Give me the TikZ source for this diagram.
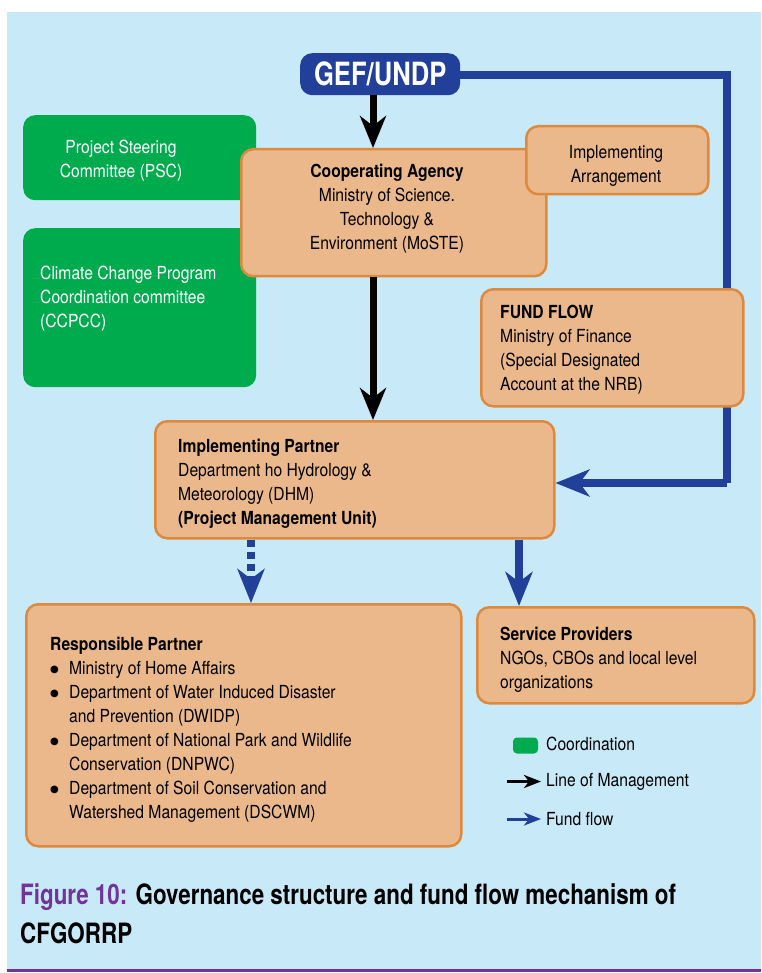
\documentclass[tikz,border=0pt]{standalone}
\usepackage{fontspec}
\setmainfont[FakeStretch=0.87]{TeX Gyre Heros}
\newfontfamily\condf[FakeStretch=0.8]{TeX Gyre Heros}
\newfontfamily\dejavu{DejaVu Sans}
\usetikzlibrary{arrows.meta}
\definecolor{bgblue}{HTML}{C8E9F8}
\definecolor{boxfill}{HTML}{EBB88C}
\definecolor{boxline}{HTML}{DD8A3E}
\definecolor{cgreen}{HTML}{00AB4E}
\definecolor{dblue}{HTML}{22409A}
\definecolor{purp}{HTML}{72339B}
\newcommand{\blt}{\makebox[19pt][l]{\raisebox{2pt}{\dejavu\fontsize{10}{10}\selectfont ●}}}
\tikzset{
  obox/.style={draw=boxline, fill=boxfill, line width=2.5pt, rounded corners=12pt, inner sep=0pt, anchor=north west},
  gbox/.style={fill=cgreen, rounded corners=12pt, inner sep=0pt, anchor=north west},
  txt/.style={inner sep=0pt, font=\fontsize{18}{24}\selectfont, align=left},
  ctxt/.style={inner sep=0pt, font=\fontsize{18}{24}\selectfont, align=center},
  mgmt/.style={black, line width=7pt, -{Stealth[length=32pt, width=26pt, inset=10pt]}},
  fund/.style={dblue, line width=7.5pt, -{Stealth[length=34pt, width=27pt, inset=10pt]}},
  fundline/.style={dblue, line width=7.5pt},
  dotfund/.style={dblue, line width=7.5pt, dash pattern=on 7pt off 5pt, -{Stealth[length=34pt, width=27pt, inset=10pt]}},
  legarrow/.style={line width=3pt, -{Stealth[length=17pt, width=13pt, inset=5pt]}},
}
\begin{document}
\begin{tikzpicture}[x=1pt,y=-1pt]
\useasboundingbox (0,0) rectangle (761,973);
\fill[white] (0,0) rectangle (761,973);
\fill[bgblue] (7,12) rectangle (761,969);
\draw[purp, line width=3pt] (7,970.5) -- (761,970.5);

% GEF/UNDP
\node[fill=dblue, rounded corners=12pt, minimum width=160pt, minimum height=42pt, anchor=north west, inner sep=0pt] (gef) at (300,53) {};
\node[text=white, font=\condf\fontsize{32}{38}\selectfont\bfseries, inner sep=0pt] at (gef.center) {GEF/UNDP};

% fund flow line behind boxes
\coordinate (fr) at (727,75);
\coordinate (fk) at (727,483);

% green boxes
\node[gbox, minimum width=233pt, minimum height=85pt] (psc) at (23,115) {};
\node[gbox, minimum width=233pt, minimum height=159pt] (ccpcc) at (23,228) {};
\node[ctxt, text=white] at (121,161) {Project Steering\\Committee (PSC)};
\node[txt, text=white, anchor=north west] at (40,266) {Climate Change Program\\Coordination committee\\(CCPCC)};

% orange boxes
\node[obox, minimum width=305pt, minimum height=127pt] (ca) at (240,148) {};
\node[ctxt] at (387,209) {\textbf{Cooperating Agency}\\Ministry of Science.\\Technology \&\\Environment (MoSTE)};
\node[obox, minimum width=182pt, minimum height=68pt] (ia) at (525,125) {};
\node[ctxt] at (616,166) {Implementing\\Arrangement};

\draw[fundline] (gef.east |- fr) -- (fr) -- (fk);
\node[obox, minimum width=262pt, minimum height=117pt] (ff) at (480,288) {};
\node[txt, anchor=north west] at (500,305) {\textbf{FUND FLOW}\\Ministry of Finance\\(Special Designated\\Account at the NRB)};

\node[obox, minimum width=399pt, minimum height=117pt] (ip) at (154,420) {};
\node[txt, anchor=north west] at (178,439) {\textbf{Implementing Partner}\\Department ho Hydrology \&\\Meteorology (DHM)\\\textbf{(Project Management Unit)}};

\node[obox, minimum width=435pt, minimum height=242pt] (rp) at (25,603) {};
\node[txt, anchor=north west] at (50,637) {\textbf{Responsible Partner}\\
\blt Ministry of Home Affairs\\
\blt Department of Water Induced Disaster\\
\hspace{19pt}and Prevention (DWIDP)\\
\blt Department of National Park and Wildlife\\
\hspace{19pt}Conservation (DNPWC)\\
\blt Department of Soil Conservation and\\
\hspace{19pt}Watershed Management (DSCWM)};

\node[obox, minimum width=277pt, minimum height=96pt] (sp) at (476,606) {};
\node[txt, anchor=north west] at (500,627) {\textbf{Service Providers}\\NGOs, CBOs and local level\\organizations};

% connectors
\coordinate (m) at (373,0);
\coordinate (d) at (251,0);
\coordinate (s) at (519,0);
\draw[mgmt] (gef.south -| m) -- (ca.north -| m);
\draw[mgmt] (ca.south -| m) -- (ip.north -| m);
\draw[fund] (fk) -- (fk -| ip.east);
\draw[dotfund] (ip.south -| d) -- (rp.north -| d);
\draw[fund] (ip.south -| s) -- (sp.north -| s);

% legend
\node[fill=cgreen, rounded corners=4pt, minimum width=25pt, minimum height=16pt, inner sep=0pt] (lg) at (525.5,745.5) {};
\node[txt, anchor=west] (lgt) at (546,744) {Coordination};
\coordinate (la1) at (507,781.5);
\coordinate (la2) at (541,781.5);
\coordinate (lb1) at (507,819);
\coordinate (lb2) at (541,819);
\draw[black, legarrow] (la1) -- (la2);
\node[txt, anchor=west] at (546,782) {Line of Management};
\draw[dblue, legarrow] (lb1) -- (lb2);
\node[txt, anchor=west] at (546,819) {Fund flow};

% caption
\node[inner sep=0pt, anchor=north west, align=left, font=\condf\fontsize{28}{39}\selectfont\bfseries] at (20,883) {\textcolor{purp}{Figure 10:} Governance structure and fund flow mechanism of\\CFGORRP};
\end{tikzpicture}
\end{document}
